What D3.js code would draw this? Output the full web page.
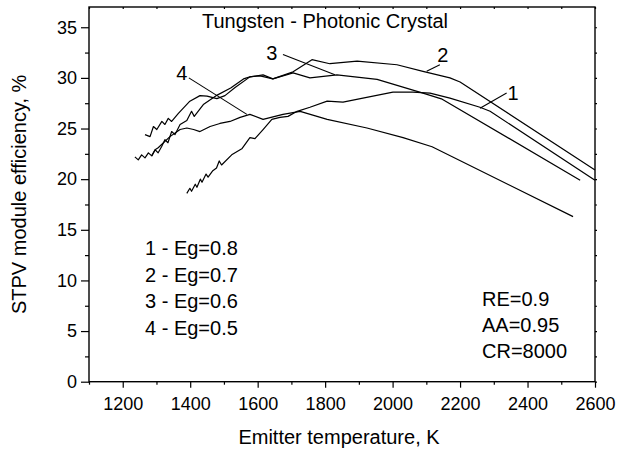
<!DOCTYPE html>
<html>
<head>
<meta charset="utf-8">
<script src="https://cdn.jsdelivr.net/npm/d3@7"></script>
<style>
  html, body { margin: 0; padding: 0; background: #fff; }
  svg { display: block; font-family: "Liberation Sans", Arial, sans-serif; }
</style>
</head>
<body>
<svg id="chart" width="618" height="450"></svg>
<script>
// ---------- data ----------
const xTicks = [1200, 1400, 1600, 1800, 2000, 2200, 2400, 2600];
const xMinorTicks = [1100, 1300, 1500, 1700, 1900, 2100, 2300, 2500];
const yTicks = [0, 5, 10, 15, 20, 25, 30, 35];
const yMinorTicks = [2.5, 7.5, 12.5, 17.5, 22.5, 27.5, 32.5];

// Curve 1: Eg = 0.8
const temp1 = [1390,1399,1404,1415,1420,1430,1435,1447,1453,1466,1478,1486,1493,1523,1553,1577,1592,1616,1642,1666,1690,1717,1755,1806,1853,1912,2001,2060,2111,2170,2259,2289,2600];
const eff1  = [18.6,19.1,18.8,19.5,19.2,20.0,19.7,20.5,20.2,20.8,21.1,21.8,21.4,22.4,23.0,24.1,24.0,24.9,25.9,26.1,26.2,26.7,27.1,27.7,27.6,28.0,28.6,28.6,28.5,28.0,27.1,26.7,19.9];

// Curve 2: Eg = 0.7
const temp2 = [1236,1246,1256,1266,1276,1286,1296,1305,1315,1325,1334,1345,1355,1370,1390,1404,1412,1440,1480,1520,1558,1577,1607,1645,1705,1761,1814,1895,2013,2090,2170,2200,2600];
const eff2  = [22.2,21.9,22.4,22.1,22.6,22.3,22.9,22.6,23.2,23.9,23.6,24.7,24.4,25.4,25.8,26.7,26.2,27.4,28.3,29.0,29.9,30.1,30.2,29.9,30.6,31.8,31.4,31.65,31.3,30.65,30.0,29.6,20.9];

// Curve 3: Eg = 0.6
const temp3 = [1266,1281,1291,1301,1316,1325,1335,1345,1365,1399,1429,1450,1479,1503,1533,1577,1616,1645,1675,1705,1755,1835,1954,2090,2147,2556];
const eff3  = [24.4,24.2,25.2,24.9,25.7,25.4,26.0,25.7,26.5,27.7,28.25,28.2,27.95,28.25,29.05,30.1,30.3,29.9,30.2,30.5,30.0,30.3,29.85,28.5,27.9,19.9];

// Curve 4: Eg = 0.5
const temp4 = [1286,1296,1305,1340,1370,1390,1410,1429,1459,1488,1518,1548,1577,1616,1675,1726,1806,1924,2031,2117,2535];
const eff4  = [22.3,22.9,23.1,24.2,24.9,25.05,24.9,24.7,25.2,25.5,25.7,26.1,26.4,25.9,26.4,26.7,25.9,25.05,24.1,23.2,16.3];

const curveLabels = ["1", "2", "3", "4"];
// label anchor (T, eff) and leader line from (T, eff) to (T, eff)
const labelT   = [2357, 2149, 1642, 1375];
const labelV   = [28.5, 32.3, 32.5, 30.5];
const leadFromT = [2338, 2140, 1675, 1396];
const leadFromV = [28.5, 31.3, 32.3, 30.0];
const leadToT   = [2259, 2101, 1829, 1568];
const leadToV   = [27.0, 30.65, 30.3, 26.4];

const legendLines = ["1 - Eg=0.8", "2 - Eg=0.7", "3 - Eg=0.6", "4 - Eg=0.5"];
const paramLines = ["RE=0.9", "AA=0.95", "CR=8000"];
const titleText = "Tungsten - Photonic Crystal";
const xTitle = "Emitter temperature, K";
const yTitle = "STPV module efficiency, %";

// ---------- chart ----------
const svg = d3.select("#chart");
const L = 89, R = 595, T = 7, B = 381.7;
const x = d3.scaleLinear().domain([1100, 2600]).range([L, R]);
const y = d3.scaleLinear().domain([0, 37]).range([B, T]);

const series = [
  d3.zip(temp1, eff1), d3.zip(temp2, eff2), d3.zip(temp3, eff3), d3.zip(temp4, eff4)
];
const line = d3.line().x(d => x(d[0])).y(d => y(d[1]));

const fsTick = 18;
const fs = 20;

// axes
const gx = svg.append("g").attr("transform", `translate(0,${B})`)
  .call(d3.axisBottom(x).tickValues(xTicks).tickSize(6).tickPadding(10).tickSizeOuter(0).tickFormat(d3.format("d")));
const gxm = svg.append("g").attr("transform", `translate(0,${B})`)
  .call(d3.axisBottom(x).tickValues(xMinorTicks).tickSize(3).tickFormat("").tickSizeOuter(0));
const gy = svg.append("g").attr("transform", `translate(${L},0)`)
  .call(d3.axisLeft(y).tickValues(yTicks).tickSize(8).tickPadding(4).tickSizeOuter(0));
const gym = svg.append("g").attr("transform", `translate(${L},0)`)
  .call(d3.axisLeft(y).tickValues(yMinorTicks).tickSize(4).tickFormat("").tickSizeOuter(0));
const gt = svg.append("g").attr("transform", `translate(0,${T})`)
  .call(d3.axisTop(x).tickValues(xTicks.concat(xMinorTicks)).tickSize(-2).tickFormat("").tickSizeOuter(0));
const gr = svg.append("g").attr("transform", `translate(${R},0)`)
  .call(d3.axisRight(y).tickValues(yTicks.concat(yMinorTicks)).tickSize(2).tickFormat("").tickSizeOuter(0));

[gx, gxm, gy, gym, gt, gr].forEach(g => {
  g.select(".domain").remove();
  g.selectAll("line").attr("stroke", "#000").attr("stroke-width", 1.2);
  g.selectAll("text").attr("fill", "#000").attr("font-size", fsTick)
    .attr("font-family", '"Liberation Sans", Arial, sans-serif');
});

// frame
svg.append("rect").attr("x", L).attr("y", T).attr("width", R - L).attr("height", B - T)
  .attr("fill", "none").attr("stroke", "#000").attr("stroke-width", 1.4);

// curves
svg.append("g").selectAll("path").data(series).join("path")
  .attr("d", line).attr("fill", "none").attr("stroke", "#000").attr("stroke-width", 1.2)
  .attr("stroke-linejoin", "round");

// curve labels + leaders
const ann = svg.append("g");
curveLabels.forEach((c, i) => {
  ann.append("line")
    .attr("x1", x(leadFromT[i])).attr("y1", y(leadFromV[i]))
    .attr("x2", x(leadToT[i])).attr("y2", y(leadToV[i]))
    .attr("stroke", "#000").attr("stroke-width", 1.1);
  ann.append("text").attr("x", x(labelT[i])).attr("y", y(labelV[i]))
    .attr("text-anchor", "middle").attr("dominant-baseline", "central")
    .attr("font-size", fs).text(c);
});

// title
svg.append("text").attr("x", 202).attr("y", 28)
  .attr("font-size", fs).text(titleText);

// legend
svg.append("g").selectAll("text").data(legendLines).join("text")
  .attr("x", 145).attr("y", (d, i) => 255 + i * 26.7)
  .attr("font-size", fs).text(d => d);

// params
svg.append("g").selectAll("text").data(paramLines).join("text")
  .attr("x", 482).attr("y", (d, i) => 306 + i * 26)
  .attr("font-size", fs).text(d => d);

// axis titles
svg.append("text").attr("x", 339).attr("y", 444).attr("text-anchor", "middle")
  .attr("font-size", fs).text(xTitle);
svg.append("text").attr("transform", `translate(26,${(T + B) / 2}) rotate(-90)`)
  .attr("text-anchor", "middle").attr("font-size", fs).text(yTitle);
</script>
</body>
</html>
